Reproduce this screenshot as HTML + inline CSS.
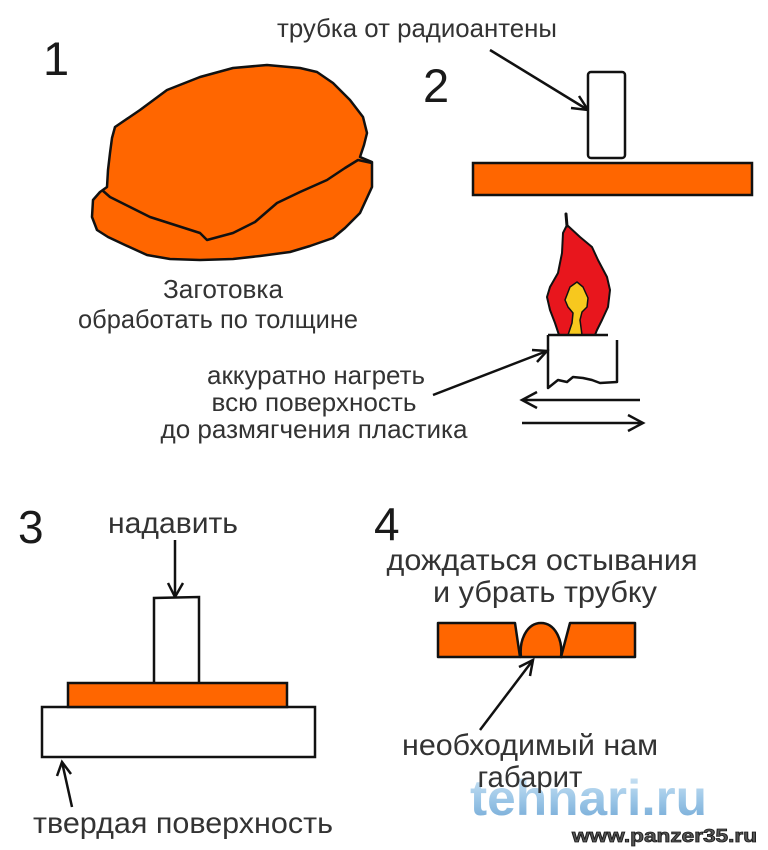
<!DOCTYPE html>
<html>
<head>
<meta charset="utf-8">
<style>
  html,body{margin:0;padding:0;background:#fff;}
  svg{display:block;}
  .t{font-family:"Liberation Sans","Noto Sans CJK SC",sans-serif;fill:#333;}
  .n{font-family:"Liberation Sans",sans-serif;fill:#1a1a1a;}
</style>
</head>
<body>
<svg width="768" height="850" viewBox="0 0 768 850" xmlns="http://www.w3.org/2000/svg">
  <defs>
    <linearGradient id="wm" x1="0" y1="0" x2="0" y2="1">
      <stop offset="0" stop-color="#d6e9f6"/>
      <stop offset="0.5" stop-color="#9ec8e8"/>
      <stop offset="1" stop-color="#6fa6d4"/>
    </linearGradient>
  </defs>
  <rect width="768" height="850" fill="#fff"/>

  <!-- ===== Step 1 ===== -->
  <text class="n" x="43" y="75" font-size="47">1</text>
  <path d="M115,127 L140,110 L167,90 L200,77 L233,68 L267,65 L300,68 L317,72 L333,83 L350,100 L363,117 L367,133 L364,145 L360,157 L372,162 L372,187 L366,200 L360,213 L345,228 L333,238 L310,246 L290,252 L260,256 L233,259 L200,260 L170,259 L147,255 L125,245 L108,237 L97,230 L92,217 L93,200 L100,192 L107,187 L108,170 L110,153 L112,138 Z"
        fill="#ff6600" stroke="#111" stroke-width="2.5" stroke-linejoin="round"/>
  <path d="M102,190 L110,197 L130,207 L150,217 L175,225 L200,233 L207,240 L233,233 L255,222 L277,203 L300,192 L327,180 L345,168 L358,160 L372,163"
        fill="none" stroke="#111" stroke-width="2.5" stroke-linejoin="round"/>
  <text class="t" x="223" y="298" font-size="26" text-anchor="middle" textLength="120" lengthAdjust="spacingAndGlyphs">Заготовка</text>
  <text class="t" x="218" y="328" font-size="26" text-anchor="middle" textLength="280" lengthAdjust="spacingAndGlyphs">обработать по толщине</text>

  <!-- ===== Step 2 ===== -->
  <text class="t" x="417" y="37" font-size="26" text-anchor="middle" textLength="280" lengthAdjust="spacingAndGlyphs">трубка от радиоантены</text>
  <text class="n" x="423" y="102" font-size="47">2</text>
  <line x1="490" y1="50" x2="588" y2="110" stroke="#111" stroke-width="2.5"/>
  <polyline points="579,96 588,110 571,108" fill="none" stroke="#111" stroke-width="2.5"/>
  <rect x="588" y="72" width="37" height="86" rx="3" fill="#fff" stroke="#111" stroke-width="2.5"/>
  <rect x="473" y="163" width="279" height="32" fill="#ff6600" stroke="#111" stroke-width="2.5"/>

  <!-- flame -->
  <path d="M567,225 L580,237 L592,247 L598,260 L607,277 L610,290 L608,307 L602,320 L597,330 L595,335 L559,335 L555,323 L550,310 L547,297 L550,287 L558,273 L562,253 L563,233 Z"
        fill="#e8161d" stroke="#111" stroke-width="2" stroke-linejoin="round"/>
  <path d="M567,226 L566,214" stroke="#111" stroke-width="3" stroke-linecap="round"/>
  <path d="M577,282 L583,287 L588,298 L587,307 L582,312 L580,320 L582,335 L568,335 L572,323 L573,313 L568,307 L565,300 L570,287 Z"
        fill="#f7c81e" stroke="#111" stroke-width="1.5" stroke-linejoin="round"/>
  <!-- candle / tube being heated -->
  <path d="M548,335 L548,388 L558,380 L567,382 L573,377 L583,378 L592,380 L600,383 L617,382 L617,340 L617,340"
        fill="#fff" stroke="#111" stroke-width="2.5" stroke-linejoin="round"/>
  <line x1="548" y1="335" x2="608" y2="335" stroke="#111" stroke-width="2.5"/>

  <text class="t" x="316" y="384" font-size="26" text-anchor="middle" textLength="218" lengthAdjust="spacingAndGlyphs">аккуратно нагреть</text>
  <text class="t" x="314" y="411" font-size="26" text-anchor="middle" textLength="205" lengthAdjust="spacingAndGlyphs">всю поверхность</text>
  <text class="t" x="314" y="438" font-size="26" text-anchor="middle" textLength="307" lengthAdjust="spacingAndGlyphs">до размягчения пластика</text>
  <line x1="433" y1="395" x2="547" y2="351" stroke="#111" stroke-width="2.5"/>
  <polyline points="532,350 547,351 537,362" fill="none" stroke="#111" stroke-width="2.5"/>

  <line x1="522" y1="400" x2="640" y2="400" stroke="#111" stroke-width="2.5"/>
  <polyline points="537,392 522,400 537,408" fill="none" stroke="#111" stroke-width="2.5"/>
  <line x1="522" y1="423" x2="643" y2="423" stroke="#111" stroke-width="2.5"/>
  <polyline points="628,415 643,423 628,431" fill="none" stroke="#111" stroke-width="2.5"/>

  <!-- ===== Step 3 ===== -->
  <text class="n" x="18" y="543" font-size="46">3</text>
  <text class="t" x="173" y="533" font-size="30" text-anchor="middle" textLength="130" lengthAdjust="spacingAndGlyphs">надавить</text>
  <line x1="175" y1="540" x2="175" y2="597" stroke="#111" stroke-width="2.5"/>
  <polyline points="168,583 175,597 183,583" fill="none" stroke="#111" stroke-width="2.5"/>
  <path d="M154,683 L154,598 L199,597 L199,683" fill="#fff" stroke="#111" stroke-width="2.5"/>
  <rect x="42" y="707" width="273" height="50" fill="#fff" stroke="#111" stroke-width="2.5"/>
  <rect x="68" y="683" width="219" height="24" fill="#ff6600" stroke="#111" stroke-width="2.5"/>
  <line x1="72" y1="807" x2="62" y2="762" stroke="#111" stroke-width="2.5"/>
  <polyline points="57,776 62,762 71,774" fill="none" stroke="#111" stroke-width="2.5"/>
  <text class="t" x="183" y="833" font-size="30" text-anchor="middle" textLength="300" lengthAdjust="spacingAndGlyphs">твердая поверхность</text>

  <!-- ===== Step 4 ===== -->
  <text class="n" x="374" y="540" font-size="46">4</text>
  <text class="t" x="542" y="570" font-size="30" text-anchor="middle" textLength="311" lengthAdjust="spacingAndGlyphs">дождаться остывания</text>
  <text class="t" x="545" y="602" font-size="30" text-anchor="middle" textLength="224" lengthAdjust="spacingAndGlyphs">и убрать трубку</text>
  <polygon points="438,623 515,623 520,657 438,657" fill="#ff6600" stroke="#111" stroke-width="2.5" stroke-linejoin="round"/>
  <polygon points="570,623 635,623 635,657 561,657" fill="#ff6600" stroke="#111" stroke-width="2.5" stroke-linejoin="round"/>
  <path d="M521,657 C519,640 527,623 541,623 C555,623 563,640 561,657 Z" fill="#ff6600" stroke="#111" stroke-width="2.5"/>
  <line x1="480" y1="730" x2="533" y2="660" stroke="#111" stroke-width="2.5"/>
  <polyline points="519,667 533,660 530,676" fill="none" stroke="#111" stroke-width="2.5"/>
  <text class="t" x="530" y="755" font-size="30" text-anchor="middle" textLength="256" lengthAdjust="spacingAndGlyphs">необходимый нам</text>

  <!-- watermark -->
  <text x="470" y="815" font-family="Liberation Sans, sans-serif" font-weight="bold" font-size="50" fill="url(#wm)" textLength="237" lengthAdjust="spacingAndGlyphs">tehnari.ru</text>
  <text class="t" x="530" y="787" font-size="30" text-anchor="middle" textLength="105" lengthAdjust="spacingAndGlyphs">габарит</text>
  <text x="572" y="842" font-family="Liberation Sans, sans-serif" font-weight="bold" font-size="18" fill="#555" stroke="#1a1a1a" stroke-width="0.8" textLength="185" lengthAdjust="spacingAndGlyphs">www.panzer35.ru</text>
</svg>
</body>
</html>
